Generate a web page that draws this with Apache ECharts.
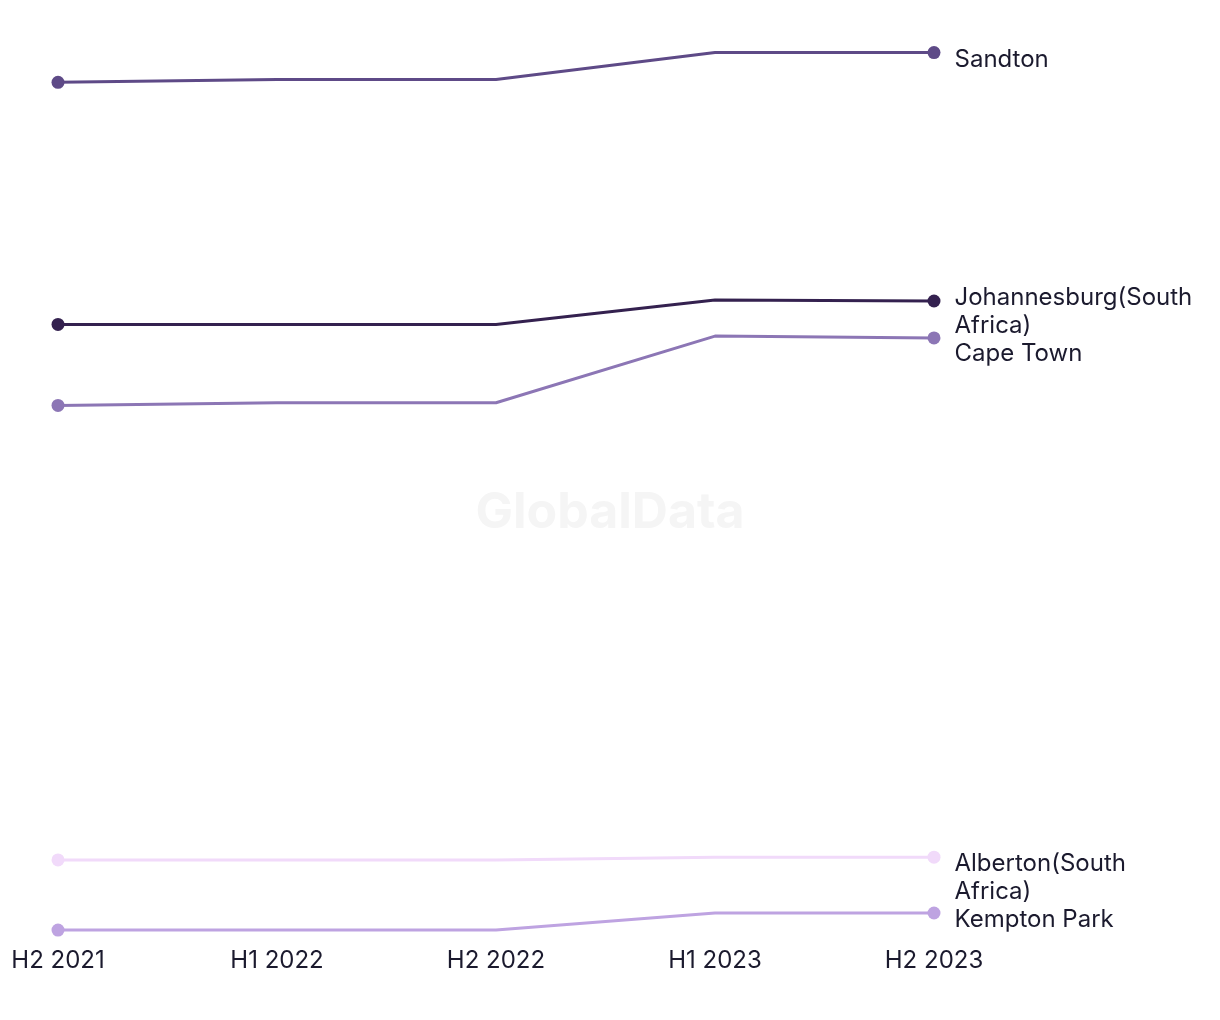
<!DOCTYPE html>
<html><head><meta charset="utf-8">
<script src="https://cdn.jsdelivr.net/npm/echarts@6/dist/echarts.min.js"></script>
<style>html,body{margin:0;padding:0;background:#fff}#c{width:1220px;height:1020px}</style>
</head><body><div id="c"></div>
<script>
const categories = ['H2 2021', 'H1 2022', 'H2 2022', 'H1 2023', 'H2 2023'];
const seriesNames = ['Sandton', 'Johannesburg(South Africa)', 'Cape Town', 'Alberton(South Africa)', 'Kempton Park'];
const sandton = [95.3, 95.6, 95.6, 98.6, 98.6];
const johannesburg = [68.4, 68.4, 68.4, 71.1, 71.0];
const capeTown = [59.4, 59.7, 59.7, 67.1, 66.9];
const alberton = [8.9, 8.9, 8.9, 9.2, 9.2];
const kemptonPark = [1.1, 1.1, 1.1, 3.0, 3.0];
const colors = ['#5e4a87', '#34214f', '#8c76b5', '#f1dafa', '#bea3e1'];
const labelShift = [7, 11, 16, 21, 7];
const values = [sandton, johannesburg, capeTown, alberton, kemptonPark];

const font = 'Inter, "Open Sans", sans-serif';
const chart = echarts.init(document.getElementById('c'));
chart.setOption({
  animation: false,
  graphic: [{
    type: 'text', left: 'center', top: 488, z: -1,
    style: { text: 'GlobalData', font: 'bold 50px ' + font, fill: '#f5f5f5' }
  }],
  grid: { left: 58, right: 286, top: 40, bottom: 80 },
  xAxis: {
    type: 'category', data: categories, boundaryGap: false,
    axisLine: { show: false }, axisTick: { show: false }, splitLine: { show: false },
    axisLabel: { fontFamily: font, fontSize: 24, color: '#1b1a2e', margin: 9 }
  },
  yAxis: { type: 'value', min: 0, max: 100, show: false, splitLine: { show: false } },
  series: values.map((v, i) => ({
    name: seriesNames[i], type: 'line', data: v.map((val, j) => j === v.length - 1 ? {
      value: val,
      label: {
        show: true, position: 'right', distance: 14, formatter: seriesNames[i],
        fontFamily: font, fontSize: 24, color: '#1b1a2e', width: 246, overflow: 'break',
        lineHeight: 28, offset: [0, labelShift[i]]
      }
    } : val),
    color: colors[i],
    lineStyle: { width: 3, color: colors[i] },
    symbol: 'circle',
    symbolSize: (val, p) => (p.dataIndex === 0 || p.dataIndex === v.length - 1) ? 13 : 0,
    showAllSymbol: true,
    itemStyle: { color: colors[i] }
  }))
});
</script></body></html>
